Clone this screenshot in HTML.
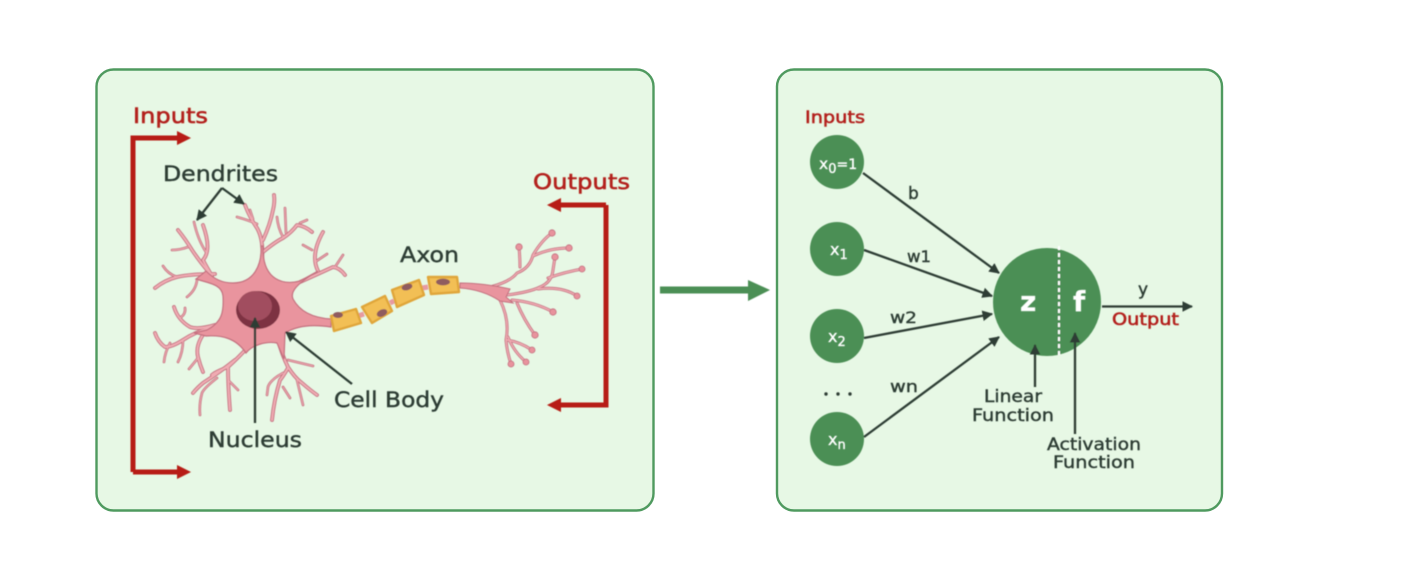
<!DOCTYPE html>
<html><head><meta charset="utf-8"><style>
html,body{margin:0;padding:0;background:#fff;width:1428px;height:578px;overflow:hidden}
svg{display:block}
text{font-family:"DejaVu Sans","Liberation Sans",sans-serif;fill:#2d3c34;stroke:#2d3c34;stroke-width:.4}
text.r{fill:#b3201b;stroke:#b3201b;stroke-width:.55}
text.w{fill:#fff;stroke:#fff;stroke-width:.35}
.tl{stroke:#2d3c34;stroke-width:2.3;fill:none}
</style></head><body>
<svg width="1428" height="578" viewBox="0 0 1428 578" xmlns="http://www.w3.org/2000/svg">
<defs>
<filter id="b" x="-5%" y="-5%" width="110%" height="110%"><feGaussianBlur stdDeviation="0.5"/></filter>
<marker id="a" viewBox="0 0 10 10" refX="9" refY="5" markerWidth="4.600" markerHeight="4.600" orient="auto"><path d="M0 0L10 5L0 10Z" fill="#2d3c34"/></marker>
<g id="tr" fill="none" stroke-linecap="round" stroke-linejoin="round">
<path d="M212 276Q200 262 192 250Q186 240 178 230"/>
<path d="M212 276Q206 266 203 260Q212 250 203 225"/>
<path d="M215 274Q190 274 177 277Q165 280 155 288"/>
<path d="M262 262Q264 240 257 228Q250 218 245 205"/>
<path d="M263 240Q270 225 273 210Q275 202 274 195"/>
<path d="M263 252Q275 242 283 238Q292 232 297 225Q305 226 312 232"/>
<path d="M300 282Q318 274 333 267Q340 268 345 275"/>
<path d="M318 271Q310 255 323 232"/>
<path d="M210 328Q195 332 183 340Q172 347 165 347Q158 342 155 333"/>
<path d="M205 332Q195 345 198 357Q200 365 203 372"/>
<path d="M215 325Q198 330 190 327Q178 320 174 307"/>
<path d="M250 345Q238 358 228 367Q215 372 212 375"/>
<path d="M235 360Q220 372 203 383Q197 388 193 393"/>
<path d="M228 367Q228 385 230 410"/>
<path d="M278 340Q282 355 288 367Q295 378 302 383Q310 390 317 395"/>
<path d="M288 368Q282 378 280 380Q274 400 272 420"/>
</g>
<g id="tw" fill="none" stroke-linecap="round" stroke-linejoin="round">
<path d="M188 247Q180 250 172 250"/>
<path d="M206 252Q198 240 194 222"/>
<path d="M177 277Q168 274 163 266"/>
<path d="M197 280Q196 290 187 297"/>
<path d="M257 224Q248 220 237 217"/>
<path d="M253 219L250 210"/>
<path d="M283 237Q278 228 277 217"/>
<path d="M286 233L285 208"/>
<path d="M300 223L307 220"/>
<path d="M335 267L343 255"/>
<path d="M315 262L327 254"/>
<path d="M312 250L303 245"/>
<path d="M170 343Q165 352 164 362"/>
<path d="M183 340Q183 352 178 362"/>
<path d="M198 358L189 369"/>
<path d="M180 318Q186 314 185 308"/>
<path d="M217 378Q204 388 202 393Q199 404 200 415"/>
<path d="M228 380L238 390"/>
<path d="M288 360L313 366"/>
<path d="M297 380L303 405"/>
<path d="M283 373Q270 380 268 387L267 395"/>
<path d="M283 387L290 398"/>
</g>
<g id="ax" fill="none" stroke-linecap="round" stroke-linejoin="round">
<path d="M490 287Q510 282 517 273Q530 268 533 255Q542 240 552 233"/>
<path d="M520 267Q520 258 519 247"/>
<path d="M533 256Q550 248 569 248"/>
<path d="M507 295Q530 292 540 287Q552 282 553 270L555 257"/>
<path d="M548 278Q565 272 582 269"/>
<path d="M538 289Q562 286 577 296"/>
<path d="M512 300Q535 302 553 312"/>
<path d="M517 303Q524 320 535 335"/>
<path d="M500 300Q510 320 506 340Q507 352 511 364"/>
<path d="M507 340Q520 342 532 350"/>
<path d="M508 337Q514 352 526 362"/>
</g>
</defs>

<rect x="96.500" y="69.500" width="557" height="441" rx="17" fill="#e7f8e5" stroke="#4f9a5f" stroke-width="2.400"/>
<rect x="777" y="69.500" width="445" height="441" rx="17" fill="#e7f8e5" stroke="#4f9a5f" stroke-width="2.400"/>

<g filter="url(#b)">
<use href="#tr" stroke="#c4707f" stroke-width="3.800"/>
<use href="#tw" stroke="#c4707f" stroke-width="2.600"/>
<use href="#tr" stroke="#f0acb3" stroke-width="2"/>
<use href="#tw" stroke="#f0acb3" stroke-width="1"/>
<path d="M261 246C262 265 254 283 233 283C222 283 214 279 206 271L196 279C208 283 222 284 223 296C224 312 222 322 207 330L194 333L206 336C222 335 236 338 246 353C252 345 266 341 277 343L284 359L285 333C296 326 312 324 331 327L331 319C314 318 300 312 293 299C290 292 296 284 318 271L300 281C285 285 262 282 263 246Z" fill="#e9949e" stroke="#c4707f" stroke-width="1.200"/>
<ellipse cx="258" cy="310" rx="22" ry="19" fill="#7d3243"/>
<ellipse cx="255" cy="306" rx="17" ry="15" fill="#a14e5e"/>
<path d="M358 316L364 314M390 303L394 301M422 288L428 287" stroke="#e79aa1" stroke-width="5"/>
<g fill="#f2bf55" stroke="#e0a63a" stroke-width="2.400" stroke-linejoin="round">
<path d="M331 316L356 309L361 323L334 331Z"/>
<path d="M362 307L385 296L392 311L372 323Z"/>
<path d="M392 290L419 280L424 295L397 307Z"/>
<path d="M428 277L457 277L459 292L431 294Z"/>
</g>
<g fill="#8f5c5e">
<ellipse cx="338" cy="315" rx="5" ry="3"/>
<ellipse cx="382" cy="313" rx="5.500" ry="3.500" transform="rotate(-25 382 313)"/>
<ellipse cx="407" cy="287" rx="5.500" ry="3.200" transform="rotate(-15 407 287)"/>
<ellipse cx="443" cy="282" rx="7" ry="3.400"/>
</g>
<use href="#ax" stroke="#c4707f" stroke-width="3"/>
<use href="#ax" stroke="#f0acb3" stroke-width="1.400"/>
<path d="M460 283C475 283 492 285 510 289L506 297L513 303L500 301C488 293 475 289 460 288Z" fill="#e9949e" stroke="#c4707f" stroke-width="1"/>
<g fill="#e8939d" stroke="#c4707f" stroke-width=".8">
<circle cx="552" cy="233" r="3.200"/><circle cx="519" cy="247" r="3.200"/><circle cx="569" cy="248" r="3.200"/><circle cx="555" cy="257" r="3.200"/><circle cx="582" cy="269" r="3"/><circle cx="577" cy="296" r="3"/><circle cx="553" cy="312" r="3.200"/><circle cx="535" cy="335" r="3.200"/><circle cx="532" cy="350" r="3"/><circle cx="526" cy="362" r="3"/><circle cx="511" cy="364" r="3"/>
</g>
<path d="M133 472V138H180M133 472H180M606 205H558M606 205V405H558" fill="none" stroke="#b71c14" stroke-width="5"/>
<path d="M177 131L191 138L177 145ZM177 465L191 472L177 479ZM561 198L547 205L561 212ZM561 398L547 405L561 412Z" fill="#b71c14"/>
<g class="tl">
<path d="M222 188L197 220" marker-end="url(#a)"/>
<path d="M222 188L244 204" marker-end="url(#a)"/>
<path d="M255 423V318" marker-end="url(#a)"/>
<path d="M352 384L286 332" marker-end="url(#a)"/>
</g>
<path d="M660 286.500H750V293.500H660Z" fill="#4b8f55"/>
<path d="M748 280L770 290L748 301Z" fill="#4b8f55"/>
<g fill="#4b8f55">
<circle cx="837" cy="162" r="27"/><circle cx="837" cy="249" r="27"/><circle cx="837" cy="336" r="27"/><circle cx="837" cy="439" r="27"/><circle cx="1047" cy="302" r="54"/>
</g>
<g fill="#2d3c34"><circle cx="826" cy="394" r="1.700"/><circle cx="838" cy="394" r="1.700"/><circle cx="850" cy="394" r="1.700"/></g>
<path d="M1059 246V356" stroke="#fff" stroke-width="2" stroke-dasharray="4 3"/>
<g class="tl">
<path d="M863 173L999 273" marker-end="url(#a)"/>
<path d="M864 250L992 296" marker-end="url(#a)"/>
<path d="M864 338L992 314" marker-end="url(#a)"/>
<path d="M864 437L999 337" marker-end="url(#a)"/>
<path d="M1102 306.500H1192" marker-end="url(#a)"/>
<path d="M1035 387V345" marker-end="url(#a)"/>
<path d="M1075 434V333" marker-end="url(#a)"/>
</g>
</g>

<g filter="url(#b)">
<text class="r" x="133" y="123" font-size="21" textLength="75" lengthAdjust="spacingAndGlyphs">Inputs</text>
<text x="163" y="181" font-size="21" textLength="115" lengthAdjust="spacingAndGlyphs">Dendrites</text>
<text class="r" x="533" y="189" font-size="21" textLength="97" lengthAdjust="spacingAndGlyphs">Outputs</text>
<text x="400" y="262" font-size="21" textLength="59" lengthAdjust="spacingAndGlyphs">Axon</text>
<text x="334" y="407" font-size="21" textLength="110" lengthAdjust="spacingAndGlyphs">Cell Body</text>
<text x="208" y="447" font-size="21" textLength="94" lengthAdjust="spacingAndGlyphs">Nucleus</text>
<text class="r" x="805" y="123" font-size="16.500" textLength="60" lengthAdjust="spacingAndGlyphs">Inputs</text>
<text class="w" x="819" y="169" font-size="15.500">x<tspan dy="4" font-size="13">0</tspan><tspan dy="-4" font-size="14">=1</tspan></text>
<text class="w" x="830" y="255" font-size="16">x<tspan dy="4" font-size="13">1</tspan></text>
<text class="w" x="828" y="342" font-size="16">x<tspan dy="4" font-size="13">2</tspan></text>
<text class="w" x="828" y="445" font-size="16">x<tspan dy="4" font-size="13">n</tspan></text>
<text x="908" y="199" font-size="17">b</text>
<text x="907" y="262" font-size="16" textLength="24" lengthAdjust="spacingAndGlyphs">w1</text>
<text x="890" y="323" font-size="16" textLength="27" lengthAdjust="spacingAndGlyphs">w2</text>
<text x="890" y="392" font-size="16" textLength="28" lengthAdjust="spacingAndGlyphs">wn</text>
<text class="w" x="1020" y="311" font-size="28" font-weight="bold">z</text>
<text class="w" x="1073" y="311" font-size="28" font-weight="bold">f</text>
<text x="1138" y="295" font-size="17">y</text>
<text class="r" x="1112" y="325" font-size="16.500" textLength="67" lengthAdjust="spacingAndGlyphs">Output</text>
<text x="984" y="402" font-size="16.500" textLength="58" lengthAdjust="spacingAndGlyphs">Linear</text>
<text x="972" y="421" font-size="16.500" textLength="82" lengthAdjust="spacingAndGlyphs">Function</text>
<text x="1047" y="450" font-size="16.500" textLength="94" lengthAdjust="spacingAndGlyphs">Activation</text>
<text x="1053" y="468" font-size="16.500" textLength="82" lengthAdjust="spacingAndGlyphs">Function</text>
</g>
</svg>
</body></html>
